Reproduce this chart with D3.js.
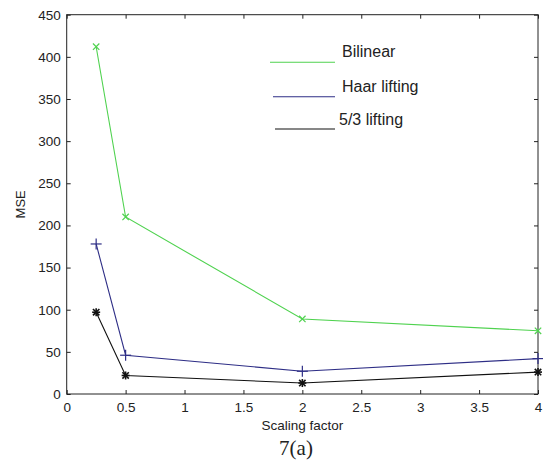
<!DOCTYPE html>
<html>
<head>
<meta charset="utf-8">
<script src="https://cdnjs.cloudflare.com/ajax/libs/d3/7.8.5/d3.min.js"></script>
<style>
body { margin: 0; background: #fff; }
svg text { font-family: "Liberation Sans", Arial, sans-serif; fill: #222; }
.axis path, .axis line { stroke: #222; }
</style>
</head>
<body>
<div id="chart"></div>
<script>
var scaleFactor = [0.25, 0.5, 2, 4];
var bilinear = [412, 210, 89, 75];
var haar = [178, 46, 27, 42];
var lifting53 = [97, 22, 13, 26];
var xTicks = [0, 0.5, 1, 1.5, 2, 2.5, 3, 3.5, 4];
var yTicks = [0, 50, 100, 150, 200, 250, 300, 350, 400, 450];

var series = [
  {name: "Bilinear", values: bilinear, color: "#4fd24f", marker: "x"},
  {name: "Haar lifting", values: haar, color: "#2e2e86", marker: "+"},
  {name: "5/3 lifting", values: lifting53, color: "#111", marker: "*"}
];

var width = 543, height = 472;
var plotL = 66.7, plotR = 538, plotT = 14.7, plotB = 394;

var svg = d3.select("#chart").append("svg")
  .attr("width", width).attr("height", height);

var x = d3.scaleLinear().domain([0, 4]).range([plotL, plotR]);
var y = d3.scaleLinear().domain([0, 450]).range([plotB, plotT]);

// box
svg.append("rect")
  .attr("x", plotL).attr("y", plotT)
  .attr("width", plotR - plotL).attr("height", plotB - plotT)
  .attr("fill", "none").attr("stroke", "#222");

// axes, ticks pointing in
svg.append("g").attr("class", "axis")
  .attr("transform", "translate(0," + plotB + ")")
  .call(d3.axisBottom(x).tickValues(xTicks).tickSize(-4).tickPadding(8).tickFormat(d3.format("")))
  .call(function(g) { g.select(".domain").remove(); })
  .selectAll("text").style("font-size", "13.5px");
svg.append("g").attr("class", "axis")
  .attr("transform", "translate(0," + plotT + ")")
  .call(d3.axisTop(x).tickValues(xTicks).tickSize(-4).tickFormat(""))
  .call(function(g) { g.select(".domain").remove(); });
svg.append("g").attr("class", "axis")
  .attr("transform", "translate(" + plotL + ",0)")
  .call(d3.axisLeft(y).tickValues(yTicks).tickSize(-4).tickPadding(6))
  .call(function(g) { g.select(".domain").remove(); })
  .selectAll("text").style("font-size", "13.5px");
svg.append("g").attr("class", "axis")
  .attr("transform", "translate(" + plotR + ",0)")
  .call(d3.axisRight(y).tickValues(yTicks).tickSize(-4).tickFormat(""))
  .call(function(g) { g.select(".domain").remove(); });

svg.selectAll(".axis text").attr("fill", "#222");

// lines
var line = d3.line()
  .x(function(d, i) { return x(scaleFactor[i]); })
  .y(function(d) { return y(d); });

series.forEach(function(s) {
  svg.append("path")
    .datum(s.values)
    .attr("d", line)
    .attr("fill", "none")
    .attr("stroke", s.color)
    .attr("stroke-width", 1.1);

  var g = svg.append("g");
  s.values.forEach(function(v, i) {
    var cx = x(scaleFactor[i]), cy = y(v), r = 4;
    var segs = [];
    var ext = s.marker == "+" ? 1.5 : 0;
    if (s.marker == "x" || s.marker == "*") {
      segs.push([-r*0.8, -r*0.8, r*0.8, r*0.8], [-r*0.8, r*0.8, r*0.8, -r*0.8]);
    }
    if (s.marker == "+" || s.marker == "*") {
      segs.push([-r - ext, 0, r + ext, 0], [0, -r - ext, 0, r + ext]);
    }
    segs.forEach(function(sg) {
      g.append("line")
        .attr("x1", cx + sg[0]).attr("y1", cy + sg[1])
        .attr("x2", cx + sg[2]).attr("y2", cy + sg[3])
        .attr("stroke", s.color)
        .attr("stroke-width", s.marker == "*" ? 1.6 : 1.2);
    });
  });
});

// legend
var legendY = [62.3, 96.7, 129];
var legendX1 = [270, 273, 275];
series.forEach(function(s, i) {
  svg.append("line")
    .attr("x1", legendX1[i]).attr("x2", 335)
    .attr("y1", legendY[i]).attr("y2", legendY[i])
    .attr("stroke", s.color).attr("stroke-width", 1.1);
  svg.append("text")
    .attr("x", i == 2 ? 339 : 342)
    .attr("y", legendY[i] - (i == 2 ? 4 : 5))
    .style("font-size", "16px")
    .text(s.name);
});

// axis labels
svg.append("text")
  .attr("x", (plotL + plotR) / 2).attr("y", 430)
  .attr("text-anchor", "middle")
  .style("font-size", "13.5px")
  .text("Scaling factor");

svg.append("text")
  .attr("transform", "translate(25," + ((plotT + plotB) / 2) + ") rotate(-90)")
  .attr("text-anchor", "middle")
  .style("font-size", "13px")
  .text("MSE");

svg.append("text")
  .attr("x", 296).attr("y", 455)
  .attr("text-anchor", "middle")
  .style("font-family", "'Liberation Serif', 'Times New Roman', serif")
  .style("font-size", "21px")
  .attr("fill", "#000")
  .text("7(a)");
</script>
</body>
</html>
